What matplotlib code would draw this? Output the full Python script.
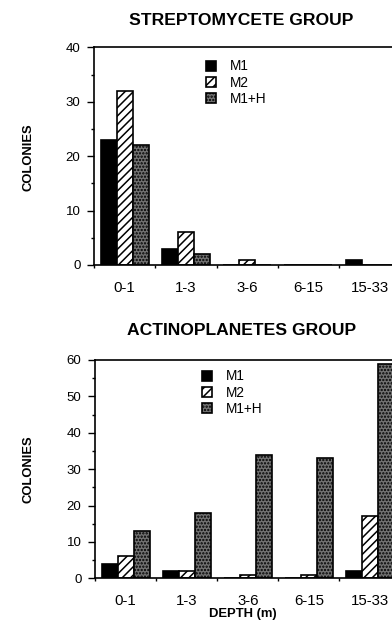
import numpy as np
import matplotlib
matplotlib.use("Agg")
import matplotlib.pyplot as plt

plt.rcParams['font.family'] = ['Liberation Sans', 'DejaVu Sans']
plt.rcParams['hatch.linewidth'] = 1.1

depths = ['0-1', '1-3', '3-6', '6-15', '15-33']
series = ['M1', 'M2', 'M1+H']

strep_m1 = [23, 3, 0, 0, 1]
strep_m2 = [32, 6, 1, 0, 0]
strep_m1h = [22, 2, 0, 0, 0]

actino_m1 = [4, 2, 0, 0, 2]
actino_m2 = [6, 2, 1, 1, 17]
actino_m1h = [13, 18, 34, 33, 59]

my_dpi = 100
fig = plt.figure(figsize=(3.92, 6.2), dpi=my_dpi)

W = 392.0
H = 620.0


def draw_panel(ax, m1, m2, m1h, ymax, ystep, title, title_y, leg_xy):
    x = np.arange(len(depths))
    w = 0.262
    b1 = ax.bar(x - w, m1, w, color='black', edgecolor='black', linewidth=1.2)
    b2 = ax.bar(x, m2, w, color='white', edgecolor='black', linewidth=1.2, hatch='////')
    b3 = ax.bar(x + w, m1h, w, color='#727272', edgecolor='black', linewidth=1.2, hatch='.....')
    ax.set_xlim(-0.5, 4.6)
    ax.set_ylim(0, ymax)
    ax.set_yticks(np.arange(0, ymax + 1, ystep))
    ax.set_yticks(np.arange(ystep / 2, ymax, ystep), minor=True)
    ax.set_xticks(x)
    ax.set_xticklabels(depths, fontsize=10.8)
    ax.set_xticks(np.arange(-0.5, 5, 1), minor=True)
    ax.tick_params(axis='x', which='major', length=0, pad=11.5)
    ax.tick_params(axis='x', which='minor', length=2.5, width=1.0, direction='out')
    ax.tick_params(axis='y', which='major', length=4.8, width=1.0, labelsize=9.5, pad=5)
    ax.tick_params(axis='y', which='minor', length=2.2, width=1.0)
    for s in ['left', 'bottom', 'top']:
        ax.spines[s].set_linewidth(1.2)
    ax.spines['right'].set_visible(False)
    ax.set_axisbelow(False)
    fig.text(241.5 / W, 1 - title_y / H, title, fontsize=12.6, fontweight='bold',
             ha='center', va='center')
    ax.legend([b1, b2, b3], series, loc='upper left', frameon=False,
              bbox_to_anchor=(leg_xy[0] / W, 1 - leg_xy[1] / H), bbox_transform=fig.transFigure,
              borderaxespad=0, borderpad=0, handlelength=0.76, handleheight=0.76,
              handletextpad=1.0, labelspacing=0.17, fontsize=9.8)


ax1 = fig.add_axes([94 / W, (H - 265) / H, 312.4 / W, 217.7 / H])
draw_panel(ax1, strep_m1, strep_m2, strep_m1h, 40, 10, 'STREPTOMYCETE GROUP', 20.3, (206, 59.5))

ax2 = fig.add_axes([95 / W, (H - 578.3) / H, 311.6 / W, 218.3 / H])
draw_panel(ax2, actino_m1, actino_m2, actino_m1h, 60, 10, 'ACTINOPLANETES GROUP', 330.5, (202, 369.5))

fig.text(28 / W, 1 - 157 / H, 'COLONIES', rotation=90, fontsize=9.4, fontweight='bold',
         ha='center', va='center')
fig.text(28 / W, 1 - 469 / H, 'COLONIES', rotation=90, fontsize=9.4, fontweight='bold',
         ha='center', va='center')
fig.text(242.5 / W, 1 - 614.5 / H, 'DEPTH (m)', fontsize=9.4, fontweight='bold',
         ha='center', va='center')

fig.savefig('out.png', dpi=my_dpi)
